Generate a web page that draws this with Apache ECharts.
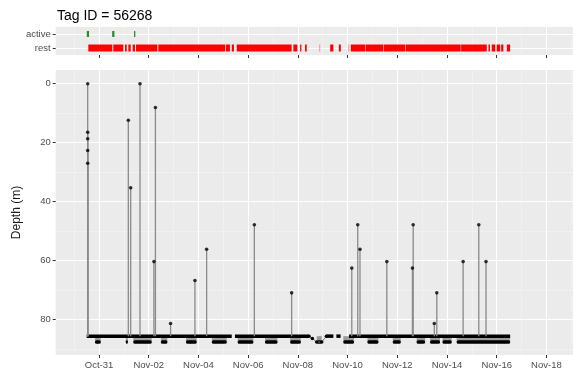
<!DOCTYPE html>
<html>
<head>
<meta charset="utf-8">
<script src="https://cdn.jsdelivr.net/npm/echarts@6/dist/echarts.min.js"></script>
<style>
  html, body { margin: 0; padding: 0; background: #ffffff; }
  #chart { width: 573px; height: 374px; }
</style>
</head>
<body>
<div id="chart"></div>
<script>
// ---- data -------------------------------------------------------------
const tagTitle = 'Tag ID = 56268';
const states = ['rest', 'active'];

// date ticks (MM-DD), major and minor
const dateTicks = ['10-31', '11-02', '11-04', '11-06', '11-08', '11-10', '11-12', '11-14', '11-16', '11-18'];
const dateMinor = ['10-30', '11-01', '11-03', '11-05', '11-07', '11-09', '11-11', '11-13', '11-15', '11-17', '11-19'];
const depthTicks = [0, 20, 40, 60, 80];
const depthMinor = [10, 30, 50, 70, 90];

// behaviour state runs (start, end)
const activeRuns = [
  ['10-30 12:14', '10-30 14:24'],
  ['10-31 12:43', '10-31 14:53'],
  ['11-01 09:50', '11-01 10:19']
];
const restRuns = [
  ['10-30 13:41', '10-31 12:50'],
  ['10-31 13:48', '10-31 23:28'],
  ['11-01 01:06', '11-01 02:46'],
  ['11-01 04:19', '11-01 06:37'],
  ['11-01 08:33', '11-01 10:47'],
  ['11-01 11:44', '11-02 08:18'],
  ['11-02 09:16', '11-05 01:41'],
  ['11-05 02:23', '11-05 06:29'],
  ['11-05 08:10', '11-05 10:19'],
  ['11-05 12:58', '11-07 18:00'],
  ['11-07 19:41', '11-07 23:31'],
  ['11-08 02:10', '11-08 03:22'],
  ['11-08 06:58', '11-08 08:38'],
  ['11-09 07:12', '11-09 10:19'],
  ['11-09 15:36', '11-09 17:31'],
  ['11-10 03:07', '11-10 17:17'],
  ['11-10 17:46', '11-11 10:19'],
  ['11-11 10:48', '11-12 07:41'],
  ['11-12 08:10', '11-14 13:12'],
  ['11-14 13:41', '11-15 14:24'],
  ['11-15 16:05', '11-15 17:31'],
  ['11-15 19:12', '11-15 22:34'],
  ['11-16 00:00', '11-16 03:22'],
  ['11-16 04:19', '11-16 06:29'],
  ['11-16 09:50', '11-16 12:58']
];
const restSingles = ['11-08 20:24', '11-10 00:29'];

// depth record: resting floor runs, deeper runs, and excursions toward the surface
const floorDepth = 85.7;
const deepDepth = 87.7;
const floorRuns = [
  ['10-30 12:07', '11-05 08:10'],
  ['11-05 11:17', '11-08 10:48'],
  ['11-09 03:36', '11-09 10:19'],
  ['11-09 13:12', '11-09 17:17'],
  ['11-10 01:26', '11-16 12:58']
];
const deepRuns = [
  ['10-30 20:10', '10-31 01:41'],
  ['11-01 01:55', '11-01 03:22'],
  ['11-01 09:07', '11-02 02:53'],
  ['11-02 11:46', '11-02 18:00'],
  ['11-03 12:00', '11-03 22:19'],
  ['11-04 12:58', '11-05 03:22'],
  ['11-05 13:55', '11-06 05:02'],
  ['11-06 16:19', '11-07 04:19'],
  ['11-07 16:34', '11-08 02:53'],
  ['11-08 18:14', '11-08 23:02'],
  ['11-09 19:55', '11-10 06:14'],
  ['11-10 19:12', '11-11 05:46'],
  ['11-11 19:41', '11-12 03:22'],
  ['11-12 18:43', '11-13 02:53'],
  ['11-13 07:41', '11-13 17:17'],
  ['11-13 19:41', '11-14 04:34'],
  ['11-14 09:22', '11-16 12:58']
];
const diveTimes = [
  '10-30 13:05', '10-30 13:05', '10-30 13:05', '10-30 13:05', '10-30 13:05',
  '11-01 04:19', '11-01 06:36', '11-01 15:36', '11-02 05:02', '11-02 06:29',
  '11-02 21:07', '11-03 20:38', '11-04 07:55', '11-06 06:00', '11-07 18:00',
  '11-10 04:05', '11-10 09:50', '11-10 12:00', '11-11 13:55', '11-12 14:38',
  '11-12 15:22', '11-13 11:46', '11-13 14:10', '11-14 15:36', '11-15 06:43',
  '11-15 13:41'
];
const diveDepths = [
  0, 16.5, 18.7, 22.7, 27.0,
  12.4, 35.3, 0, 60.4, 8.1,
  81.4, 66.8, 56.2, 47.9, 71.0,
  62.6, 47.9, 56.2, 60.4, 62.6,
  47.9, 81.4, 71.0, 60.4, 47.9,
  60.4
];
// sparse readings between the resting runs on Nov 8-10
const sparseTimes = ['11-08 10:48', '11-08 14:00', '11-08 18:14', '11-08 23:02', '11-09 03:36'];
const sparseDepths = [85.7, 86.5, 87.7, 87.7, 85.7];

// ---- helpers ------------------------------------------------------------
const YEAR = 2019;
const ORIGIN = Date.UTC(YEAR, 9, 31);
const MONTHS = ['Jan', 'Feb', 'Mar', 'Apr', 'May', 'Jun', 'Jul', 'Aug', 'Sep', 'Oct', 'Nov', 'Dec'];
function toDay(s) {
  const parts = s.split(' ');
  const md = parts[0].split('-').map(Number);
  const hm = (parts[1] || '00:00').split(':').map(Number);
  return (Date.UTC(YEAR, md[0] - 1, md[1], hm[0], hm[1]) - ORIGIN) / 864e5;
}
function dayLabel(v) {
  const d = new Date(ORIGIN + Math.round(v * 864e5));
  return MONTHS[d.getUTCMonth()] + '-' + String(d.getUTCDate()).padStart(2, '0');
}

const X_MIN = -1.742, X_MAX = 19.07;
const Y_MIN = -4.65, Y_MAX = 92.1;
const PANEL_BG = '#EBEBEB';
const FONT = 'Liberation Sans, Arial, sans-serif';
const LABEL = { color: '#4D4D4D', fontSize: 9.5, fontFamily: FONT };

function runRects(runs, yVal, xi, yi, h, color, z, opacity) {
  return {
    type: 'custom', xAxisIndex: xi, yAxisIndex: yi, z: z, silent: true, clip: true,
    data: runs.map(r => [toDay(r[0]), toDay(r[1]), yVal]),
    encode: { x: [0, 1], y: 2 },
    renderItem: function (params, api) {
      const a = api.coord([api.value(0), api.value(2)]);
      const b = api.coord([api.value(1), api.value(2)]);
      const w = Math.max(b[0] - a[0], 1.3);
      return {
        type: 'rect',
        shape: { x: a[0], y: a[1] - h / 2, width: w, height: h },
        style: { fill: color, opacity: opacity == null ? 1 : opacity }
      };
    }
  };
}

function majorX(gridIndex, showLabels) {
  const ticks = dateTicks.map(toDay);
  return {
    type: 'value', gridIndex: gridIndex, position: 'bottom', min: X_MIN, max: X_MAX,
    axisLine: { show: false, onZero: false },
    axisTick: { show: true, length: 3, lineStyle: { color: '#333333', width: 1 }, customValues: ticks },
    axisLabel: Object.assign({ show: showLabels, margin: 5, formatter: dayLabel, customValues: ticks }, LABEL),
    splitLine: { show: true, lineStyle: { color: '#FFFFFF', width: 1.1 } }
  };
}
function minorX(gridIndex) {
  const ticks = dateMinor.map(toDay);
  return {
    type: 'value', gridIndex: gridIndex, position: 'bottom', min: X_MIN, max: X_MAX,
    axisLine: { show: false, onZero: false },
    axisTick: { show: false, customValues: ticks },
    axisLabel: { show: false, customValues: ticks },
    splitLine: { show: true, lineStyle: { color: '#F5F5F5', width: 0.6 } }
  };
}

// ---- chart --------------------------------------------------------------
const chart = echarts.init(document.getElementById('chart'), null, { renderer: 'canvas' });

const option = {
  animation: false,
  backgroundColor: '#FFFFFF',
  textStyle: { fontFamily: FONT },
  title: {
    text: tagTitle, left: 52, top: 4,
    textStyle: { color: '#000000', fontSize: 14, fontWeight: 'normal', fontFamily: FONT }
  },
  grid: [
    { left: 55.7, right: 0, top: 27, height: 28, show: true, backgroundColor: PANEL_BG, borderWidth: 0 },
    { left: 55.7, right: 0, top: 70, height: 285, show: true, backgroundColor: PANEL_BG, borderWidth: 0 }
  ],
  xAxis: [
    minorX(0), majorX(0, false),
    minorX(1), majorX(1, true)
  ],
  yAxis: [
    {
      type: 'value', gridIndex: 0, position: 'left', min: 0.5, max: 2.5,
      axisLine: { show: false, onZero: false },
      axisTick: { show: true, length: 3, lineStyle: { color: '#333333' }, customValues: [1, 2] },
      axisLabel: Object.assign({ margin: 5, formatter: v => states[Math.round(v) - 1] || '', customValues: [1, 2] }, LABEL),
      splitLine: { show: true, lineStyle: { color: '#FFFFFF', width: 1.1 } }
    },
    {
      type: 'value', gridIndex: 1, position: 'left', inverse: true, min: Y_MIN, max: Y_MAX,
      name: 'Depth (m)', nameLocation: 'middle', nameGap: 33, nameRotate: 90,
      nameTextStyle: { color: '#1A1A1A', fontSize: 12, fontFamily: FONT },
      axisLine: { show: false, onZero: false },
      axisTick: { show: true, length: 3, lineStyle: { color: '#333333' }, customValues: depthTicks },
      axisLabel: Object.assign({ margin: 5, customValues: depthTicks }, LABEL),
      splitLine: { show: true, lineStyle: { color: '#FFFFFF', width: 1.1 } }
    },
    {
      type: 'value', gridIndex: 1, position: 'left', inverse: true, min: Y_MIN, max: Y_MAX,
      axisLine: { show: false, onZero: false },
      axisTick: { show: false, customValues: depthMinor },
      axisLabel: { show: false, customValues: depthMinor },
      splitLine: { show: true, lineStyle: { color: '#F5F5F5', width: 0.6 } }
    }
  ],
  series: [
    // top panel: behaviour states
    runRects(restRuns, 1, 1, 0, 7, '#FF0000', 3),
    runRects(restSingles.map(t => [t, t]), 1, 1, 0, 7, '#FF0000', 3, 0.3),
    runRects(activeRuns, 2, 1, 0, 6, '#2B8A2B', 3),

    // bottom panel: deeper runs, connected to the floor by grey traces
    {
      type: 'custom', xAxisIndex: 3, yAxisIndex: 1, z: 2, silent: true, clip: true,
      data: deepRuns.map(r => [toDay(r[0]), toDay(r[1]), floorDepth, deepDepth]),
      encode: { x: [0, 1], y: [2, 3] },
      renderItem: function (params, api) {
        const a = api.coord([api.value(0), api.value(2)]);
        const b = api.coord([api.value(1), api.value(3)]);
        const w = Math.max(b[0] - a[0], 2);
        return {
          type: 'group',
          children: [
            { type: 'rect', shape: { x: a[0], y: a[1], width: w, height: b[1] - a[1] }, style: { fill: 'rgba(90,90,90,0.55)' } },
            { type: 'rect', shape: { x: a[0], y: b[1] - 1.8, width: w, height: 3.6, r: 1.5 }, style: { fill: '#000000' } }
          ]
        };
      }
    },
    runRects(floorRuns, floorDepth, 3, 1, 3.5, '#000000', 4),
    {
      type: 'line', xAxisIndex: 3, yAxisIndex: 1, z: 4, silent: true,
      data: sparseTimes.map((t, i) => [toDay(t), sparseDepths[i]]),
      showSymbol: true, symbol: 'circle', symbolSize: 3.5,
      itemStyle: { color: '#000000' },
      lineStyle: { color: '#7F7F7F', width: 1 }
    },
    // excursions: grey trace from the floor plus a dot at the reading
    {
      type: 'custom', xAxisIndex: 3, yAxisIndex: 1, z: 5, silent: true, clip: true,
      data: diveTimes.map((t, i) => [toDay(t), diveDepths[i], floorDepth]),
      encode: { x: 0, y: [1, 2] },
      renderItem: function (params, api) {
        const top = api.coord([api.value(0), api.value(1)]);
        const bot = api.coord([api.value(0), api.value(2)]);
        return {
          type: 'line',
          shape: { x1: top[0], y1: top[1], x2: bot[0], y2: bot[1] },
          style: { stroke: '#8A8A8A', lineWidth: 1.3 }
        };
      }
    },
    {
      type: 'scatter', xAxisIndex: 3, yAxisIndex: 1, z: 6, silent: true,
      data: diveTimes.map((t, i) => [toDay(t), diveDepths[i]]),
      symbol: 'circle', symbolSize: 3.6,
      itemStyle: { color: '#000000' }
    }
  ]
};

chart.setOption(option);
</script>
</body>
</html>
